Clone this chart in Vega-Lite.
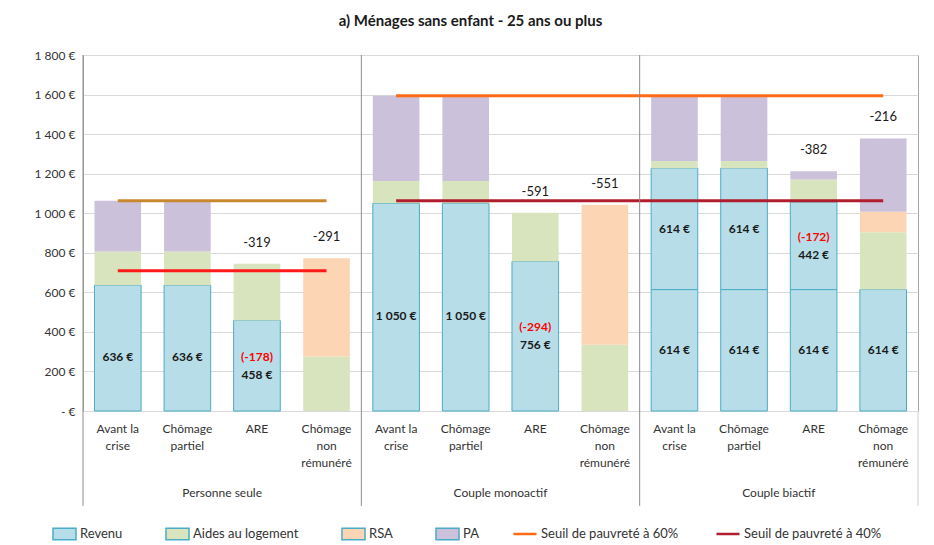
{
  "$schema": "https://vega.github.io/schema/vega-lite/v6.json",
  "width": 835,
  "height": 356,
  "autosize": {"type": "none"},
  "padding": {"left": 83, "top": 55, "right": 16, "bottom": 134},
  "background": "white",
  "config": {
    "font": "Lato",
    "view": {"stroke": "#A6A6A6", "strokeWidth": 1},
    "axis": {"labelFont": "Lato", "labelColor": "#333333"},
    "axisY": {"tickCount": 12, "labelOverlap": false, "gridColor": "#D9D9D9"},
    "legend": {"labelFont": "Lato", "labelColor": "#333333"}
  },
  "title": {
    "text": "a) Ménages sans enfant - 25 ans ou plus",
    "font": "Lato",
    "fontSize": 15,
    "fontWeight": "bold",
    "color": "#1a1a1a",
    "anchor": "middle",
    "offset": 20,
    "dx": -30
  },
  "datasets": {
    "barres": [
      {"cat": "Personne seule|Avant la/crise", "comp": "Revenu", "ord": 1, "id": "P1a", "val": 636, "lab": "636 €"},
      {"cat": "Personne seule|Avant la/crise", "comp": "Aides au logement", "ord": 3, "id": "P1c", "val": 170},
      {"cat": "Personne seule|Avant la/crise", "comp": "PA", "ord": 5, "id": "P1e", "val": 257},
      {"cat": "Personne seule|Chômage/partiel", "comp": "Revenu", "ord": 1, "id": "P2a", "val": 636, "lab": "636 €"},
      {"cat": "Personne seule|Chômage/partiel", "comp": "Aides au logement", "ord": 3, "id": "P2c", "val": 170},
      {"cat": "Personne seule|Chômage/partiel", "comp": "PA", "ord": 5, "id": "P2e", "val": 257},
      {"cat": "Personne seule|ARE", "comp": "Revenu", "ord": 1, "id": "P3a", "val": 458, "lab": "458 €", "red": "(-178)"},
      {"cat": "Personne seule|ARE", "comp": "Aides au logement", "ord": 3, "id": "P3c", "val": 286},
      {"cat": "Personne seule|Chômage/non/rémunéré", "comp": "Aides au logement", "ord": 3, "id": "P4c", "val": 275},
      {"cat": "Personne seule|Chômage/non/rémunéré", "comp": "RSA", "ord": 4, "id": "P4d", "val": 497},
      {"cat": "Couple monoactif|Avant la/crise", "comp": "Revenu", "ord": 1, "id": "M1a", "val": 1050, "lab": "1 050 €"},
      {"cat": "Couple monoactif|Avant la/crise", "comp": "Aides au logement", "ord": 3, "id": "M1c", "val": 113},
      {"cat": "Couple monoactif|Avant la/crise", "comp": "PA", "ord": 5, "id": "M1e", "val": 431},
      {"cat": "Couple monoactif|Chômage/partiel", "comp": "Revenu", "ord": 1, "id": "M2a", "val": 1050, "lab": "1 050 €"},
      {"cat": "Couple monoactif|Chômage/partiel", "comp": "Aides au logement", "ord": 3, "id": "M2c", "val": 113},
      {"cat": "Couple monoactif|Chômage/partiel", "comp": "PA", "ord": 5, "id": "M2e", "val": 431},
      {"cat": "Couple monoactif|ARE", "comp": "Revenu", "ord": 1, "id": "M3a", "val": 756, "lab": "756 €", "red": "(-294)"},
      {"cat": "Couple monoactif|ARE", "comp": "Aides au logement", "ord": 3, "id": "M3c", "val": 247},
      {"cat": "Couple monoactif|Chômage/non/rémunéré", "comp": "Aides au logement", "ord": 3, "id": "M4c", "val": 335},
      {"cat": "Couple monoactif|Chômage/non/rémunéré", "comp": "RSA", "ord": 4, "id": "M4d", "val": 708},
      {"cat": "Couple biactif|Avant la/crise", "comp": "Revenu", "ord": 1, "id": "B1a", "val": 614, "lab": "614 €"},
      {"cat": "Couple biactif|Avant la/crise", "comp": "Revenu", "ord": 2, "id": "B1b", "val": 614, "lab": "614 €"},
      {"cat": "Couple biactif|Avant la/crise", "comp": "Aides au logement", "ord": 3, "id": "B1c", "val": 36},
      {"cat": "Couple biactif|Avant la/crise", "comp": "PA", "ord": 5, "id": "B1e", "val": 330},
      {"cat": "Couple biactif|Chômage/partiel", "comp": "Revenu", "ord": 1, "id": "B2a", "val": 614, "lab": "614 €"},
      {"cat": "Couple biactif|Chômage/partiel", "comp": "Revenu", "ord": 2, "id": "B2b", "val": 614, "lab": "614 €"},
      {"cat": "Couple biactif|Chômage/partiel", "comp": "Aides au logement", "ord": 3, "id": "B2c", "val": 36},
      {"cat": "Couple biactif|Chômage/partiel", "comp": "PA", "ord": 5, "id": "B2e", "val": 330},
      {"cat": "Couple biactif|ARE", "comp": "Revenu", "ord": 1, "id": "B3a", "val": 614, "lab": "614 €"},
      {"cat": "Couple biactif|ARE", "comp": "Revenu", "ord": 2, "id": "B3b", "val": 442, "lab": "442 €", "red": "(-172)"},
      {"cat": "Couple biactif|ARE", "comp": "Aides au logement", "ord": 3, "id": "B3c", "val": 115},
      {"cat": "Couple biactif|ARE", "comp": "PA", "ord": 5, "id": "B3e", "val": 41},
      {"cat": "Couple biactif|Chômage/non/rémunéré", "comp": "Revenu", "ord": 1, "id": "B4a", "val": 614, "lab": "614 €"},
      {"cat": "Couple biactif|Chômage/non/rémunéré", "comp": "Aides au logement", "ord": 3, "id": "B4c", "val": 290},
      {"cat": "Couple biactif|Chômage/non/rémunéré", "comp": "RSA", "ord": 4, "id": "B4d", "val": 104},
      {"cat": "Couple biactif|Chômage/non/rémunéré", "comp": "PA", "ord": 5, "id": "B4e", "val": 370}
    ],
    "ecarts": [
      {"cat": "Personne seule|ARE", "ecart": "-319"},
      {"cat": "Personne seule|Chômage/non/rémunéré", "ecart": "-291"},
      {"cat": "Couple monoactif|ARE", "ecart": "-591"},
      {"cat": "Couple monoactif|Chômage/non/rémunéré", "ecart": "-551"},
      {"cat": "Couple biactif|ARE", "ecart": "-382"},
      {"cat": "Couple biactif|Chômage/non/rémunéré", "ecart": "-216"}
    ],
    "seuils": [
      {"serie": "Seuil 60% (personne seule)", "debut": "Personne seule|Avant la/crise", "fin": "Personne seule|Chômage/non/rémunéré", "seuil": 1063},
      {"serie": "Seuil 40% (personne seule)", "debut": "Personne seule|Avant la/crise", "fin": "Personne seule|Chômage/non/rémunéré", "seuil": 709},
      {"serie": "Seuil de pauvreté à 60%", "debut": "Couple monoactif|Avant la/crise", "fin": "Couple biactif|Chômage/non/rémunéré", "seuil": 1594},
      {"serie": "Seuil de pauvreté à 40%", "debut": "Couple monoactif|Avant la/crise", "fin": "Couple biactif|Chômage/non/rémunéré", "seuil": 1063}
    ],
    "groupes": [
      {"groupe": "Personne seule"},
      {"groupe": "Couple monoactif"},
      {"groupe": "Couple biactif"}
    ]
  },
  "layer": [
    {
      "layer": [
        {
          "data": {"name": "barres"},
          "mark": {"type": "bar", "width": {"band": 0.67}, "stroke": "#4BACC6"},
          "encoding": {
            "x": {
              "field": "cat", "type": "nominal",
              "scale": {"domain": ["Personne seule|Avant la/crise", "Personne seule|Chômage/partiel", "Personne seule|ARE", "Personne seule|Chômage/non/rémunéré", "Couple monoactif|Avant la/crise", "Couple monoactif|Chômage/partiel", "Couple monoactif|ARE", "Couple monoactif|Chômage/non/rémunéré", "Couple biactif|Avant la/crise", "Couple biactif|Chômage/partiel", "Couple biactif|ARE", "Couple biactif|Chômage/non/rémunéré"], "paddingInner": 0, "paddingOuter": 0},
              "axis": {"title": null, "labelAngle": 0, "ticks": false, "domain": false, "labelPadding": 12, "labelFontSize": 12, "labelLineHeight": 17, "labelBaseline": "top", "labelExpr": "split(split(datum.value, '|')[1], '/')"}
            },
            "y": {
              "field": "val", "type": "quantitative", "stack": "zero",
              "scale": {"domain": [0, 1800], "nice": false},
              "axis": {"title": null, "values": [0, 200, 400, 600, 800, 1000, 1200, 1400, 1600, 1800], "tickCount": 12, "labelOverlap": false, "ticks": false, "domain": false, "gridColor": "#D9D9D9", "labelPadding": 8, "labelFontSize": 12, "labelExpr": "datum.value === 0 ? '-   €' : replace(format(datum.value, ','), ',', ' ') + ' €'"}
            },
            "fill": {
              "field": "comp", "type": "nominal",
              "scale": {"domain": ["Revenu", "Aides au logement", "RSA", "PA"], "range": ["#B7DEE8", "#D7E4BD", "#FCD5B5", "#CCC1DA"]},
              "legend": {"orient": "none", "legendX": -31, "legendY": 466, "direction": "horizontal", "title": null, "symbolType": "M-1,-0.5H1V0.5H-1Z", "symbolSize": 529, "labelFontSize": 13, "columnPadding": 40, "labelOffset": 3, "padding": 0, "symbolOpacity": 1,
                "encode": {"symbols": {"update": {"stroke": {"signal": "datum.value === 'Revenu' ? '#4BACC6' : 'transparent'"}, "strokeWidth": {"value": 1}}}}}
            },
            "order": {"field": "ord", "type": "quantitative"},
            "detail": {"field": "id"},
            "strokeWidth": {"condition": {"test": "datum.comp === 'Revenu'", "value": 1}, "value": 0}
          }
        },
        {
          "data": {"name": "seuils"},
          "mark": {"type": "rule", "strokeWidth": 3},
          "encoding": {
            "x": {"field": "debut", "type": "nominal", "bandPosition": 0.5, "axis": {"title": null},
              "scale": {"domain": ["Personne seule|Avant la/crise", "Personne seule|Chômage/partiel", "Personne seule|ARE", "Personne seule|Chômage/non/rémunéré", "Couple monoactif|Avant la/crise", "Couple monoactif|Chômage/partiel", "Couple monoactif|ARE", "Couple monoactif|Chômage/non/rémunéré", "Couple biactif|Avant la/crise", "Couple biactif|Chômage/partiel", "Couple biactif|ARE", "Couple biactif|Chômage/non/rémunéré"], "paddingInner": 0, "paddingOuter": 0}},
            "x2": {"field": "fin"},
            "y": {"field": "seuil", "type": "quantitative", "axis": {"title": null}},
            "stroke": {
              "field": "serie", "type": "nominal",
              "scale": {"domain": ["Seuil de pauvreté à 60%", "Seuil de pauvreté à 40%", "Seuil 60% (personne seule)", "Seuil 40% (personne seule)"], "range": ["#FF6A13", "#B01E2E", "#C8892E", "#FF1A1A"]},
              "legend": {"orient": "none", "legendX": 429, "legendY": 466, "direction": "horizontal", "title": null, "values": ["Seuil de pauvreté à 60%", "Seuil de pauvreté à 40%"], "symbolType": "stroke", "symbolSize": 529, "symbolStrokeWidth": 2.5, "labelFontSize": 13, "columnPadding": 32, "labelOffset": 3, "padding": 0}
            }
          }
        },
        {
          "data": {"name": "barres"},
          "transform": [
            {"stack": "val", "groupby": ["cat"], "sort": [{"field": "ord", "order": "ascending"}], "as": ["y0", "y1"]},
            {"filter": "isValid(datum.lab) && (indexof(datum.cat, 'Couple biactif') !== 0 || isValid(datum.red))"},
            {"fold": ["y0", "y1"], "as": ["bord", "pos"]}
          ],
          "mark": {"type": "text", "fontWeight": "bold", "fontSize": 12, "color": "#1a1a1a", "dy": 9},
          "encoding": {
            "x": {"field": "cat", "type": "nominal", "axis": {"title": null}},
            "y": {"aggregate": "mean", "field": "pos", "type": "quantitative", "axis": {"title": null}},
            "text": {"field": "lab", "type": "nominal"},
            "detail": {"field": "id"}
          }
        },
        {
          "data": {"name": "barres"},
          "transform": [
            {"stack": "val", "groupby": ["cat"], "sort": [{"field": "ord", "order": "ascending"}], "as": ["y0", "y1"]},
            {"filter": "isValid(datum.lab) && indexof(datum.cat, 'Couple biactif') === 0 && !isValid(datum.red)"},
            {"fold": ["y0", "y1"], "as": ["bord", "pos"]}
          ],
          "mark": {"type": "text", "fontWeight": "bold", "fontSize": 12, "color": "#1a1a1a"},
          "encoding": {
            "x": {"field": "cat", "type": "nominal", "axis": {"title": null}},
            "y": {"aggregate": "mean", "field": "pos", "type": "quantitative", "axis": {"title": null}},
            "text": {"field": "lab", "type": "nominal"},
            "detail": {"field": "id"}
          }
        },
        {
          "data": {"name": "barres"},
          "transform": [
            {"stack": "val", "groupby": ["cat"], "sort": [{"field": "ord", "order": "ascending"}], "as": ["y0", "y1"]},
            {"filter": "isValid(datum.red)"},
            {"fold": ["y0", "y1"], "as": ["bord", "pos"]}
          ],
          "mark": {"type": "text", "fontWeight": "bold", "fontSize": 12, "color": "#FF0000", "dy": -9},
          "encoding": {
            "x": {"field": "cat", "type": "nominal", "axis": {"title": null}},
            "y": {"aggregate": "mean", "field": "pos", "type": "quantitative", "axis": {"title": null}},
            "text": {"field": "red", "type": "nominal"},
            "detail": {"field": "id"}
          }
        },
        {
          "data": {"name": "barres"},
          "transform": [
            {"aggregate": [{"op": "sum", "field": "val", "as": "total"}], "groupby": ["cat"]},
            {"lookup": "cat", "from": {"data": {"name": "ecarts"}, "key": "cat", "fields": ["ecart"]}},
            {"filter": "isValid(datum.ecart)"}
          ],
          "mark": {"type": "text", "fontSize": 13, "color": "#1a1a1a", "dy": -21},
          "encoding": {
            "x": {"field": "cat", "type": "nominal", "axis": {"title": null}},
            "y": {"field": "total", "type": "quantitative", "axis": {"title": null}},
            "text": {"field": "ecart", "type": "nominal"}
          }
        }
      ]
    },
    {
      "layer": [
        {
          "data": {"name": "groupes"},
          "mark": {"type": "rule", "color": "#8C8C8C", "strokeWidth": 1},
          "encoding": {
            "x": {"field": "groupe", "type": "nominal", "bandPosition": 0,
              "scale": {"domain": ["Personne seule", "Couple monoactif", "Couple biactif"], "paddingInner": 0, "paddingOuter": 0},
              "axis": {"orient": "bottom", "title": null, "domain": false, "ticks": false, "grid": false, "labelAngle": 0, "labelPadding": 76, "labelFontSize": 12, "labelBaseline": "top"}},
            "y": {"datum": 1800, "type": "quantitative", "axis": {"title": null}},
            "y2": {"datum": -480}
          }
        },
        {
          "data": {"name": "groupes"},
          "transform": [{"filter": "datum.groupe === 'Couple biactif'"}],
          "mark": {"type": "rule", "color": "#D0D0D0", "strokeWidth": 1},
          "encoding": {
            "x": {"field": "groupe", "type": "nominal", "bandPosition": 1, "axis": {"title": null}},
            "y": {"datum": 0, "type": "quantitative", "axis": {"title": null}},
            "y2": {"datum": -480}
          }
        }
      ]
    }
  ],
  "resolve": {"scale": {"x": "independent"}}
}
